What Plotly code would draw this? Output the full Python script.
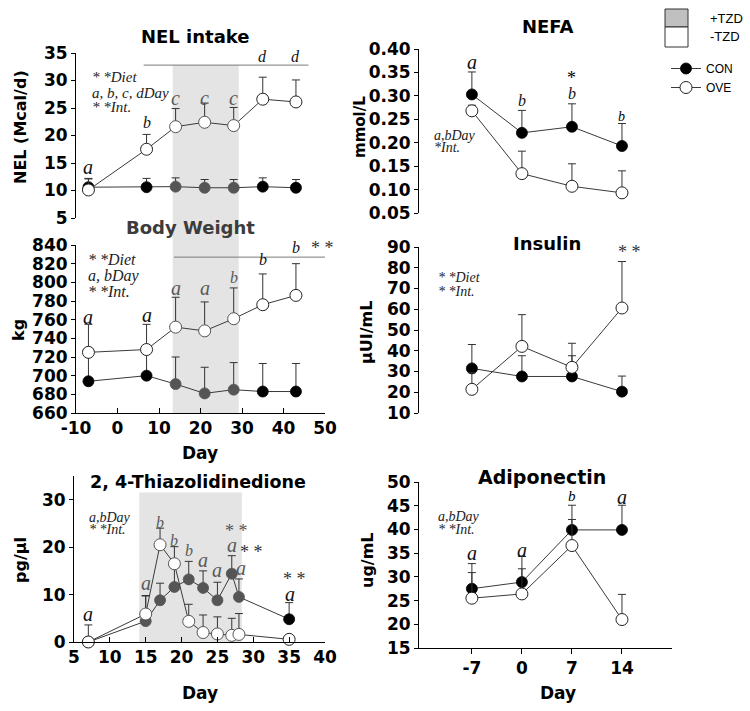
import plotly.graph_objects as go

W, H = 750, 711
def px(x): return x / W
def py(y): return 1 - y / H

# ---------------- data ----------------
nel_days = [-7, 7, 14, 21, 28, 35, 43]
nel_con = [10.6, 10.6, 10.7, 10.5, 10.5, 10.7, 10.5]
nel_con_err = [1.6, 1.6, 1.6, 1.5, 1.5, 1.6, 1.5]
nel_ove = [10.1, 17.5, 21.6, 22.4, 21.8, 26.6, 26.1]
nel_ove_err = [2.0, 2.7, 3.3, 3.5, 3.3, 4.0, 4.0]

bw_days = [-7, 7, 14, 21, 28, 35, 43]
bw_con = [694, 700, 691, 681, 685, 683, 683]
bw_con_err = [30, 30, 29, 28, 29, 30, 30]
bw_ove = [725, 728, 752, 748, 761, 776, 786]
bw_ove_err = [30, 27, 32, 31, 33, 33, 34]

blood_days = [-7, 0, 7, 14]
blood_day_labels = ['-7', '0', '7', '14']
nefa_con = [0.303, 0.221, 0.234, 0.193]
nefa_con_err = [0.048, 0.048, 0.049, 0.048]
nefa_ove = [0.268, 0.134, 0.107, 0.093]
nefa_ove_err = [0.012, 0.048, 0.048, 0.047]

ins_con = [31.5, 27.6, 27.6, 20.3]
ins_con_err = [11.5, 10.0, 10.0, 7.5]
ins_ove = [21.4, 42.1, 32.0, 60.6]
ins_ove_err = [8.0, 15.3, 11.6, 22.4]

tzd_days = [7, 15, 17, 19, 21, 23, 25, 27, 28, 35]
tzd_con = [0.0, 4.4, 8.8, 11.6, 13.2, 11.4, 8.8, 14.4, 9.5, 4.8]
tzd_con_err = [0.0, 5.4, 3.6, 4.0, 3.8, 3.6, 3.8, 3.8, 3.8, 3.5]
tzd_ove = [0.0, 5.9, 20.5, 16.5, 4.35, 2.0, 1.7, 1.4, 1.6, 0.56]
tzd_ove_err = [3.6, 3.8, 3.5, 3.6, 3.6, 3.7, 3.6, 3.6, 4.4, 0.0]

adi_con = [27.5, 28.9, 39.9, 39.9]
adi_con_err = [5.3, 5.4, 5.2, 5.2]
adi_ove = [25.5, 26.4, 36.6, 21.0]
adi_ove_err = [5.4, 5.3, 5.5, 5.3]

period_ticks = [-10, 0, 10, 20, 30, 40, 50]
period_labels = ['-10', '0', '10', '20', '30', '40', '50']
tzd_ticks = [5, 10, 15, 20, 25, 30, 35, 40]

feed_shade = [13.3, 29.2]
tzd_shade = [14.1, 28.4]

# significance letters: (day, y, text)
nel_letters = [(-7, 14.3, 'a'), (7, 22.4, 'b'), (14, 26.8, 'c'), (21, 26.8, 'c'),
               (28, 26.8, 'c'), (35, 34.3, 'd'), (43, 34.3, 'd')]
bw_letters = [(-7, 763, 'a'), (7, 765, 'a'), (14, 794, 'a'), (21, 794, 'a'),
              (28, 805, 'b'), (35, 824, 'b'), (43, 837, 'b')]
nefa_letters = [(-7, 0.372, 'a'), (0, 0.291, 'b'), (7, 0.304, 'b'), (14, 0.255, 'b')]
tzd_letters = [(7, 5.9, 'a'), (15, 12.4, 'a'), (17, 25.3, 'b'), (19, 21.4, 'b'),
               (21, 19.3, 'b'), (23, 17.2, 'a'), (25, 15.1, 'a'), (27, 20.4, 'a'),
               (28.3, 15.6, 'a'), (35.1, 10.1, 'a')]
adi_letters = [(-7, 35.0, 'a'), (0, 35.7, 'a'), (7, 47.0, 'b'), (14, 46.8, 'a')]

GRAY_IN = '#555555'
LINE = '#3a3a3a'

fig = go.Figure()

def in_shade(d, sh):
    return sh[0] <= d <= sh[1]

def add_pair(xs, con, con_err, ove, ove_err, xa, ya, shade=None, legend=False):
    con_cols = [GRAY_IN if (shade and in_shade(d, shade)) else 'black' for d in xs]
    ove_line = ['#555555' if (shade and in_shade(d, shade)) else '#222222' for d in xs]
    fig.add_trace(go.Scatter(
        x=xs, y=con, mode='lines+markers', name='CON', showlegend=legend,
        xaxis=xa, yaxis=ya, cliponaxis=False,
        line=dict(color=LINE, width=1),
        marker=dict(size=11, color=con_cols if shade else 'black', line=dict(width=0.8, color=con_cols if shade else 'black')),
        error_y=dict(type='data', symmetric=False, array=con_err, arrayminus=[0]*len(xs),
                     color='#333333', thickness=1, width=4)))
    fig.add_trace(go.Scatter(
        x=xs, y=ove, mode='lines+markers', name='OVE', showlegend=legend,
        xaxis=xa, yaxis=ya, cliponaxis=False,
        line=dict(color=LINE, width=1),
        marker=dict(size=12, color='white', line=dict(width=1, color=ove_line if shade else '#222222')),
        error_y=dict(type='data', symmetric=False, array=ove_err, arrayminus=[0]*len(xs),
                     color='#333333', thickness=1, width=4)))

add_pair(nel_days, nel_con, nel_con_err, nel_ove, nel_ove_err, 'x2', 'y2', shade=feed_shade)
add_pair(bw_days, bw_con, bw_con_err, bw_ove, bw_ove_err, 'x', 'y', shade=feed_shade)
add_pair(blood_days, nefa_con, nefa_con_err, nefa_ove, nefa_ove_err, 'x3', 'y3', legend=True)
add_pair(blood_days, ins_con, ins_con_err, ins_ove, ins_ove_err, 'x4', 'y4')
add_pair(tzd_days, tzd_con, tzd_con_err, tzd_ove, tzd_ove_err, 'x5', 'y5', shade=tzd_shade)
add_pair(blood_days, adi_con, adi_con_err, adi_ove, adi_ove_err, 'x6', 'y6')

TICKF = dict(family='DejaVu Sans', size=17, color='black', weight='bold')
def yax(dom, rng, dtick, anchor, fmt=None, tickvals=None):
    d = dict(domain=[py(dom[1]), py(dom[0])], range=rng, dtick=dtick, tick0=rng[0],
             anchor=anchor, automargin=False,
             showline=True, linecolor='black', linewidth=1, ticks='outside', ticklen=4,
             tickcolor='black', showgrid=False, zeroline=False, tickfont=TICKF, fixedrange=True)
    if fmt:
        d['tickformat'] = fmt
    if tickvals:
        d['tickvals'] = tickvals
    return d

def xax(dom, rng, anchor, visible=True, tickvals=None, ticktext=None, ticks='inside'):
    d = dict(domain=[px(dom[0]), px(dom[1])], range=rng, showgrid=False, zeroline=False,
             fixedrange=True, anchor=anchor, automargin=False)
    if not visible:
        d.update(visible=False)
    else:
        d.update(showline=True, linecolor='black', linewidth=1, ticks=ticks, ticklen=5,
                 tickcolor='black', tickfont=TICKF, tickvals=tickvals)
        if ticktext:
            d['ticktext'] = ticktext
    return d

fig.update_layout(
    width=W, height=H, margin=dict(l=0, r=0, t=0, b=0, pad=0, autoexpand=False),
    paper_bgcolor='white', plot_bgcolor='rgba(0,0,0,0)',
    xaxis=xax((76, 325), [-10, 50], 'y', tickvals=period_ticks, ticktext=period_labels),
    yaxis=yax((245, 413), [660, 840], 20, 'x'),
    xaxis2=xax((76, 325), [-10, 50], 'y2', visible=False),
    yaxis2=yax((53, 218), [5, 35], 5, 'x2'),
    xaxis3=xax((419, 672), [-14.4, 21], 'y3', visible=False),
    yaxis3=yax((49, 213), [0.05, 0.40], 0.05, 'x3', '.2f'),
    xaxis4=xax((419, 672), [-14.4, 21], 'y4', visible=False),
    yaxis4=yax((247, 413), [10, 90], 10, 'x4'),
    xaxis5=xax((74, 325), [5, 40], 'y5', tickvals=tzd_ticks),
    yaxis5=yax((476, 642), [0, 35], 10, 'x5', tickvals=[0, 10, 20, 30]),
    xaxis6=xax((419, 672), [-14.4, 21], 'y6', tickvals=blood_days, ticktext=blood_day_labels,
               ticks='outside'),
    yaxis6=yax((482, 648), [15, 50], 5, 'x6'),
    legend=dict(x=px(666), y=py(54), xanchor='left', yanchor='top',
                font=dict(family='Liberation Sans', size=12, color='black'),
                bgcolor='rgba(0,0,0,0)', tracegroupgap=0, itemwidth=30),
)

shapes = [
    dict(type='rect', xref='x', yref='paper', x0=feed_shade[0], x1=feed_shade[1],
         y0=py(413), y1=py(65), fillcolor='#e4e4e4', line=dict(width=0), layer='below'),
    dict(type='rect', xref='x5', yref='y5', x0=tzd_shade[0], x1=tzd_shade[1],
         y0=0, y1=31.5, fillcolor='#e4e4e4', line=dict(width=0), layer='below'),
    dict(type='line', xref='x2', yref='y2', x0=6.3, x1=46, y0=32.8, y1=32.8,
         line=dict(color='#7a7a7a', width=1)),
    dict(type='line', xref='x', yref='y', x0=13.6, x1=50, y0=827, y1=827,
         line=dict(color='#7a7a7a', width=1)),
    # legend boxes
    dict(type='rect', xref='paper', yref='paper', x0=px(665), x1=px(688), y0=py(27), y1=py(9),
         fillcolor='#c0c0c0', line=dict(color='#333333', width=1)),
    dict(type='rect', xref='paper', yref='paper', x0=px(665), x1=px(688), y0=py(47), y1=py(27),
         fillcolor='white', line=dict(color='#333333', width=1)),
]
fig.update_layout(shapes=shapes)

ann = []
def A(text, x, y, xref='paper', yref='paper', size=18, color='black', family='DejaVu Sans',
      xanchor='center', yanchor='middle', angle=0, weight='normal', style='normal'):
    ann.append(dict(text=text, x=x, y=y, xref=xref, yref=yref, showarrow=False,
                    xanchor=xanchor, yanchor=yanchor, textangle=angle,
                    font=dict(family=family, size=size, color=color, weight=weight, style=style)))

SERIF = 'Liberation Serif'
# titles
A('NEL intake', px(195), py(36), size=18, weight='bold')
A('Body Weight', px(190), py(227), size=18, weight='bold', color='#3c3c3c')
A('NEFA', px(548), py(27), size=18, weight='bold')
A('Insulin', px(547), py(243), size=18, weight='bold')
A('2, 4-Thiazolidinedione', px(198), py(482), size=17.5, weight='bold')
A('Adiponectin', px(542), py(477), size=19, weight='bold')

# axis titles
A('NEL (Mcal/d)', px(20), py(127), size=16, weight='bold', angle=-90)
A('kg', px(18), py(330), size=16, weight='bold', angle=-90)
A('mmol/L', px(360), py(127), size=15, weight='bold', angle=-90)
A('μUI/mL', px(366), py(333), size=16, weight='bold', angle=-90)
A('pg/μl', px(20), py(560), size=16, weight='bold', angle=-90)
A('ug/mL', px(367), py(560), size=16, weight='bold', angle=-90)
A('Day', px(200), py(453), size=17, weight='bold')
A('Day', px(200), py(693), size=17, weight='bold')
A('Day', px(558), py(693), size=17, weight='bold')

# legend text for TZD boxes
A('+TZD', px(708), py(18), size=13, family='Liberation Sans', xanchor='left')
A('-TZD', px(708), py(37), size=13, family='Liberation Sans', xanchor='left')

def letters(lst, xa, ya, shade=None):
    for d, v, t in lst:
        size = 20 if t in ('a', 'c') else 16
        col = '#5a5a5a' if (shade and in_shade(d, shade)) else '#111111'
        A(t, d, v, xref=xa, yref=ya, size=size, family=SERIF, color=col, style='italic')

letters(nel_letters, 'x2', 'y2', feed_shade)
letters(bw_letters, 'x', 'y', feed_shade)
letters(nefa_letters[:3], 'x3', 'y3')
A('b', 14, 0.255, xref='x3', yref='y3', size=14, family=SERIF, style='italic')
A('*', 7, 0.338, xref='x3', yref='y3', size=18, family=SERIF)
letters(tzd_letters, 'x5', 'y5', tzd_shade)
letters(adi_letters[:2] + adi_letters[3:], 'x6', 'y6')
A('b', 7, 47.0, xref='x6', yref='y6', size=15, family=SERIF, style='italic')

# significance stars
A('* *', 49.5, 35.2, xref='x2', yref='y2', size=18, family=SERIF, color='#333333')
A('* *', 49.5, 837, xref='x', yref='y', size=18, family=SERIF, color='#333333')
A('* *', 15.0, 87.6, xref='x4', yref='y4', size=18, family=SERIF, color='#333333')
A('* *', 27.7, 23.5, xref='x5', yref='y5', size=18, family=SERIF, color='#555555')
A('* *', 29.8, 19.0, xref='x5', yref='y5', size=18, family=SERIF, color='#333333')
A('* *', 35.8, 13.2, xref='x5', yref='y5', size=18, family=SERIF, color='#333333')
A('* *', 15.1, 50.2, xref='x6', yref='y6', size=18, family=SERIF, color='#333333')

# statistics text blocks
def block(lines, x, ys, size=15):
    for t, y in zip(lines, ys):
        A(t, px(x), py(y), size=size, family=SERIF, xanchor='left', style='italic', color='#222222')

block(['* *Diet', 'a, b, c, dDay', '* *Int.'], 90, [77, 93, 107])
block(['* *Diet', 'a, bDay', '* *Int.'], 86, [259, 276, 292], size=16)
block(['a,bDay', '*Int.'], 432, [136, 148], size=14)
block(['* *Diet', '* *Int.'], 436, [277, 291], size=14)
block(['a,bDay', '* *Int.'], 87, [517, 529], size=14)
block(['a,bDay', '* *Int.'], 436, [516, 529], size=14)

fig.update_layout(annotations=ann)
fig.write_html('out.html', config={'displayModeBar': False},
               post_script="document.body.style.margin='0px';")
